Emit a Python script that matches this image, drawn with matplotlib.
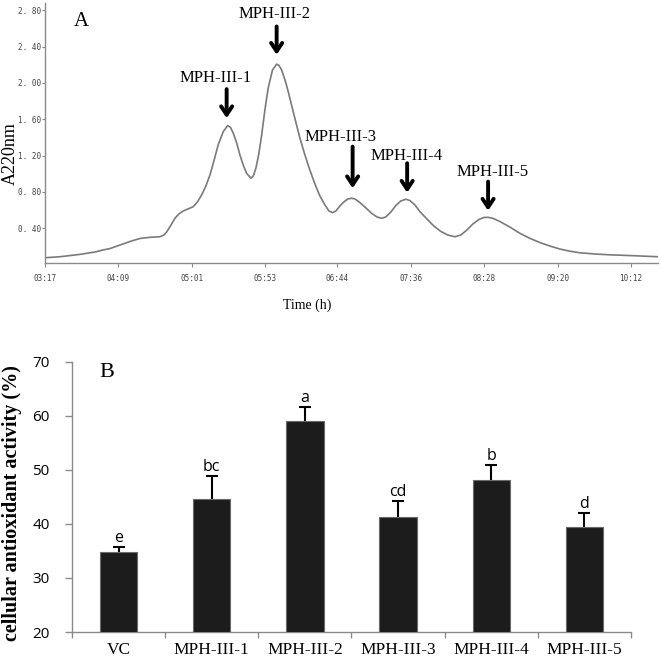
import matplotlib
matplotlib.use("Agg")
import matplotlib.pyplot as plt
import numpy as np

# ---------------- Panel A data (time in minutes, absorbance) ----------------
time_min = [197, 207.6, 221.8, 232.4, 238, 243, 250.1, 257.2, 264.2, 271.3,
            278.4, 281.2, 283.3, 286.2, 289, 291.8, 294.9, 298.2, 302, 304.9,
            307.9, 310.9, 313.8, 316.6, 319.6, 323.2, 326.3, 328.3, 330.3, 332.7,
            335, 337.3, 339.7, 342.8, 344.5, 346.3, 348.4, 350.4, 352.7, 355,
            358.1, 361, 362.6, 364.5, 366.9, 369.2, 371.5, 373.9, 377.5, 381,
            384.5, 388.1, 391.6, 395.2, 398, 400.6, 403, 405.8, 408.6, 411.4,
            414.1, 416.4, 419.9, 424.2, 428.4, 432, 435.3, 438.3, 441.9, 445.4,
            448.9, 452.5, 455.3, 458.9, 462.4, 467.4, 472.3, 477.3, 482.2, 487.2,
            491.4, 495.7, 499.9, 504.2, 507.7, 510.7, 514.1, 519, 526.1, 533.2,
            540.2, 547.3, 554.4, 561.5, 568.5, 575.6, 586.2, 596.9, 611, 630.8]
absorb = [0.076, 0.087, 0.113, 0.139, 0.161, 0.177, 0.216, 0.255, 0.288, 0.301,
          0.307, 0.326, 0.363, 0.436, 0.510, 0.558, 0.591, 0.613, 0.638, 0.690,
          0.767, 0.866, 0.987, 1.142, 1.318, 1.464, 1.531, 1.511, 1.447, 1.340,
          1.208, 1.098, 1.006, 0.951, 0.976, 1.061, 1.219, 1.428, 1.704, 1.943,
          2.144, 2.207, 2.194, 2.144, 2.034, 1.905, 1.759, 1.612, 1.392, 1.208,
          1.042, 0.888, 0.756, 0.657, 0.591, 0.572, 0.591, 0.646, 0.690, 0.723,
          0.731, 0.723, 0.684, 0.624, 0.563, 0.525, 0.510, 0.525, 0.580, 0.651,
          0.701, 0.720, 0.706, 0.657, 0.585, 0.502, 0.425, 0.365, 0.326, 0.307,
          0.326, 0.381, 0.447, 0.497, 0.519, 0.521, 0.510, 0.475, 0.414, 0.345,
          0.290, 0.244, 0.205, 0.172, 0.148, 0.131, 0.117, 0.108, 0.100, 0.087]
xtick_vals = [197, 249, 301, 353, 404, 456, 508, 560, 612]
xtick_labels = ["03:17", "04:09", "05:01", "05:53", "06:44", "07:36", "08:28", "09:20", "10:12"]
ytick_vals = [0.40, 0.80, 1.20, 1.60, 2.00, 2.40, 2.80]
ytick_labels = ["0. 40", "0. 80", "1. 20", "1. 60", "2. 00", "2. 40", "2. 80"]
peak_names = ["MPH-III-1", "MPH-III-2", "MPH-III-3", "MPH-III-4", "MPH-III-5"]

# ---------------- Panel B data ----------------
categories = ["VC", "MPH-III-1", "MPH-III-2", "MPH-III-3", "MPH-III-4", "MPH-III-5"]
activity = [34.8, 44.6, 59.1, 41.2, 48.1, 39.5]
errors = [1.0, 4.3, 2.5, 3.1, 2.8, 2.6]
letters = ["e", "bc", "a", "cd", "b", "d"]

W, H = 661, 663
fig = plt.figure(figsize=(W / 100, H / 100), dpi=100)

def fx(px):
    return px / W

def fy(py):
    return 1 - py / H

spine_col = "#8a8a8a"

# ================= Panel A =================
axA = fig.add_axes([fx(45), fy(263), fx(658) - fx(45), fy(3) - fy(263)])
axA.plot(time_min, absorb, color="#7a7a7a", lw=1.2)
axA.set_xlim(197, 631)
axA.set_ylim(0.018, 2.88)
for s in ["top", "right"]:
    axA.spines[s].set_visible(False)
for s in ["left", "bottom"]:
    axA.spines[s].set_color(spine_col)
    axA.spines[s].set_linewidth(1.0)
axA.set_xticks(xtick_vals)
axA.set_xticklabels(xtick_labels, family="DejaVu Sans Mono", fontsize=5.5, color="#444444")
axA.set_yticks(ytick_vals)
axA.set_yticklabels(ytick_labels, family="DejaVu Sans Mono", fontsize=5.5, color="#444444")
axA.tick_params(axis="x", length=3, width=0.8, color=spine_col, pad=5)
axA.tick_params(axis="y", length=2, width=0.8, color=spine_col, pad=1)
axA.set_xlabel("Time (h)", family="Liberation Serif", fontsize=10)
axA.xaxis.set_label_coords(0.427, -0.135)
axA.set_ylabel("A220nm", family="Liberation Serif", fontsize=13)
axA.yaxis.set_label_coords(-0.042, 0.42)
axA.text(222.5, 2.676, "A", family="Liberation Serif", fontsize=15, ha="center", va="center")

label_xy = [(317.9, 2.053), (359.8, 2.756), (406.5, 1.40), (453.2, 1.197), (513.8, 1.024)]
arrow_x = [325.6, 361.0, 414.8, 453.4, 510.7]
arrow_top = [1.932, 2.622, 1.299, 1.116, 0.914]
arrow_tip = [1.612, 2.31, 0.841, 0.792, 0.594]
for name, (lx, ly), ax_, at, tip in zip(peak_names, label_xy, arrow_x, arrow_top, arrow_tip):
    axA.text(lx, ly, name, family="Liberation Serif", fontsize=12, ha="center", va="center")
    axA.annotate("", xy=(ax_, tip), xytext=(ax_, at),
                 arrowprops=dict(arrowstyle="->,head_length=0.6,head_width=0.4",
                                 lw=2.8, color="black", shrinkA=0, shrinkB=0))

# ================= Panel B =================
axB = fig.add_axes([fx(72), fy(632), fx(631) - fx(72), fy(361.7) - fy(632)])
x = np.arange(len(categories))
axB.bar(x, activity, width=0.4, color="#1c1c1c", edgecolor="#6a6a6a", linewidth=0.8, zorder=3)
axB.errorbar(x, activity, yerr=errors, fmt="none",
             ecolor="black", elinewidth=1.5, capsize=4, capthick=1.5, zorder=2)
for xi, v, e, l in zip(x, activity, errors, letters):
    axB.text(xi, v + e + 0.15, l, family="Open Sans", fontsize=11.5, ha="center", va="bottom")
axB.set_xlim(-0.5, len(categories) - 0.5)
axB.set_ylim(20, 70)
for s in ["top", "right"]:
    axB.spines[s].set_visible(False)
for s in ["left", "bottom"]:
    axB.spines[s].set_color(spine_col)
    axB.spines[s].set_linewidth(1.0)
axB.set_yticks([20, 30, 40, 50, 60, 70])
axB.set_yticklabels(["20", "30", "40", "50", "60", "70"], family="Open Sans", fontsize=11)
axB.tick_params(axis="y", length=5, width=1, color=spine_col, pad=11)
axB.set_xticks(x)
axB.set_xticklabels(categories, family="Liberation Serif", fontsize=12.5)
axB.set_xticks(np.arange(-0.5, len(categories)), minor=True)
axB.tick_params(axis="x", which="major", length=0, pad=7)
axB.tick_params(axis="x", which="minor", length=4, width=1, color=spine_col)
axB.set_ylabel("cellular antioxidant activity (%)", family="Liberation Serif",
               fontweight="bold", fontsize=14.5)
axB.yaxis.set_label_coords(-0.090, 0.477)
axB.text(-0.124, 68.06, "B", family="Liberation Serif", fontsize=16, ha="center", va="center")

fig.savefig("out.png", dpi=100)
